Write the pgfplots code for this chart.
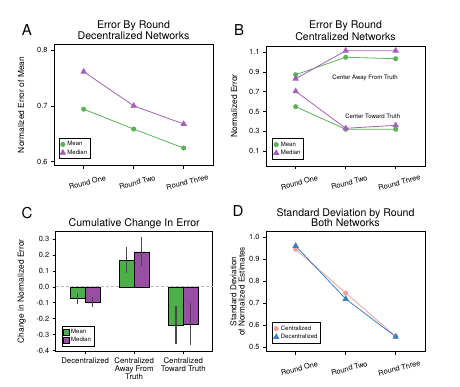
\documentclass[border=0pt]{standalone}
\usepackage{fontspec}
\setmainfont{TeX Gyre Heros}
\usepackage{pgfplots}
\pgfplotsset{compat=1.18}
\definecolor{cgreen}{HTML}{5BB15A}
\definecolor{cpurple}{HTML}{A35FB5}
\definecolor{bgreen}{HTML}{4DAF4A}
\definecolor{bpurple}{HTML}{984EA3}
\definecolor{cpink}{HTML}{F2A09C}
\definecolor{cblue}{HTML}{3F80C0}
\pgfplotsset{
  panel/.style={
    scale only axis, anchor=south west,
    axis line style={line width=0.9pt},
    tick style={black, line width=0.6pt},
    tick align=outside, major tick length=3pt,
    xtick pos=left, ytick pos=left,
    tick label style={font=\fontsize{7.4}{8}\selectfont, black},
    /pgf/number format/assume math mode=true,
    /pgf/number format/.cd, fixed, fixed zerofill, precision=1, /pgfplots/.cd,
    legend cell align=left,
    legend style={draw=black, line width=0.6pt, font=\fontsize{6}{6.5}\selectfont,
      inner sep=1pt, row sep=-1.5pt, anchor=south west},
    legend image code/.code={\draw[#1] plot coordinates {(3pt,0pt)};},
    clip=false,
  },
  rounds/.style={
    xmin=-0.594, xmax=2.586, xtick={0,1,2},
    xticklabels={Round One, Round Two, Round Three},
    xticklabel style={rotate=15, anchor=center, yshift=-14pt},
  },
  gline/.style={cgreen, line width=0.8pt, mark=*, mark size=2.1pt},
  pline/.style={cpurple, line width=0.8pt, mark=triangle*, mark size=3pt},
  ebar/.style={draw=none, mark=none, forget plot,
    error bars/.cd, y dir=both, y explicit, error mark=none,
    error bar style={draw=black!72, line width=1.2pt}},
}
\begin{document}
\begin{tikzpicture}
\useasboundingbox (0pt,0pt) rectangle (460pt,387pt);

% ---------------- Panel A
\begin{axis}[panel, rounds, at={(54pt,221.3pt)}, width=159pt, height=121.4pt,
  ymin=0.593, ymax=0.810, ytick={0.6,0.7,0.8},
  legend style={at={(0.031,0.055)}}]
\addplot[gline] coordinates {(0,0.694) (1,0.6585) (2,0.6245)};
\addplot[pline] coordinates {(0,0.761) (1,0.700) (2,0.6675)};
\legend{Mean, Median}
\end{axis}

% ---------------- Panel B
\begin{axis}[panel, rounds, at={(266pt,221pt)}, width=159pt, height=120pt,
  ymin=-0.052, ymax=1.164, ytick={0.1,0.3,0.5,0.7,0.9,1.1},
  legend style={at={(0.04,0.056)}}]
\addplot[gline] coordinates {(0,0.873) (1,1.05) (2,1.035)};
\addplot[pline] coordinates {(0,0.833) (1,1.116) (2,1.116)};
\addplot[gline, forget plot] coordinates {(0,0.549) (1,0.32) (2,0.32)};
\addplot[pline, forget plot] coordinates {(0,0.705) (1,0.33) (2,0.36)};
\node[font=\fontsize{6.1}{7}\selectfont] at (axis cs:1.386,0.843) {Center Away From Truth};
\node[font=\fontsize{6.1}{7}\selectfont] at (axis cs:1.54,0.448) {Center Toward Truth};
\legend{Mean, Median}
\end{axis}

% ---------------- Panel C
\begin{axis}[panel, at={(55.7pt,36pt)}, width=157pt, height=119.3pt,
  xmin=-0.6, xmax=2.6, xtick={0,1,2},
  xticklabels={Decentralized, {Centralized\\Away From\\Truth}, {Centralized\\Toward Truth}},
  xticklabel style={align=center, font=\fontsize{7.8}{8.3}\selectfont},
  ymin=-0.403, ymax=0.346, ytick={-0.4,-0.3,-0.2,-0.1,0,0.1,0.2,0.3},
  legend style={at={(0.039,0.039)}, row sep=-2pt},
  legend image code/.code={\draw[#1] (0pt,-2.8pt) rectangle (5.6pt,2.8pt);}]
\addplot[gray!55, dash pattern=on 3pt off 2pt, line width=0.8pt, forget plot] coordinates {(-0.6,0) (2.6,0)};
\addplot[ybar, bar width=0.3, bar shift=-0.15, fill=bgreen, draw=black, line width=0.5pt]
  coordinates {(0,-0.072) (1,0.166) (2,-0.242)};
\addplot[ybar, bar width=0.3, bar shift=0.15, fill=bpurple, draw=black, line width=0.5pt]
  coordinates {(0,-0.097) (1,0.22) (2,-0.235)};
\addplot[ebar] coordinates {(-0.15,-0.072) +- (0,0.035) (0.85,0.166) +- (0,0.082) (1.85,-0.242) +- (0,0.12)};
\addplot[ebar] coordinates {(0.15,-0.097) +- (0,0.03) (1.15,0.22) +- (0,0.09) (2.15,-0.235) +- (0,0.133)};
\legend{Mean, Median}
\end{axis}

% ---------------- Panel D
\begin{axis}[panel, rounds, at={(266pt,35.3pt)}, width=159pt, height=120.7pt,
  ymin=0.48, ymax=1.029, ytick={0.5,0.6,0.7,0.8,0.9,1.0},
  legend style={at={(0.04,0.07)}}]
\addplot[cpink, line width=0.8pt, mark=*, mark size=2.1pt] coordinates {(0,0.946) (1,0.747) (2,0.55)};
\addplot[cblue, line width=0.8pt, mark=triangle*, mark size=3pt] coordinates {(0,0.961) (1,0.72) (2,0.548)};
\legend{Centralized, Decentralized}
\end{axis}

% ---------------- Letters, titles, y labels
\node[font=\fontsize{15}{15}\selectfont] at (27pt,356.5pt) {A};
\node[font=\fontsize{15}{15}\selectfont] at (239pt,356.5pt) {B};
\node[font=\fontsize{15}{15}\selectfont] at (27pt,173.5pt) {C};
\node[font=\fontsize{15}{15}\selectfont] at (238pt,175.5pt) {D};

\node[font=\fontsize{10.6}{10}\selectfont, align=center] at (133.5pt,356.3pt) {Error By Round\\Decentralized Networks};
\node[font=\fontsize{10.6}{10}\selectfont, align=center] at (345.5pt,356.3pt) {Error By Round\\Centralized Networks};
\node[font=\fontsize{10.6}{10}\selectfont, align=center] at (134.2pt,163.7pt) {Cumulative Change In Error};
\node[font=\fontsize{10.6}{10.5}\selectfont, align=center] at (345.5pt,169.2pt) {Standard Deviation by Round\\Both Networks};

\node[font=\fontsize{8.4}{9}\selectfont, rotate=90] at (21pt,282pt) {Normalized Error of Mean};
\node[font=\fontsize{8.4}{9}\selectfont, rotate=90] at (234pt,281pt) {Normalized Error};
\node[font=\fontsize{8.4}{9}\selectfont, rotate=90] at (21.7pt,95.7pt) {Change in Normalized Error};
\node[font=\fontsize{8.2}{8.3}\selectfont, rotate=90, align=center] at (237.5pt,95.7pt) {Standard Deviation\\of Normalized Estimates};
\end{tikzpicture}
\end{document}
